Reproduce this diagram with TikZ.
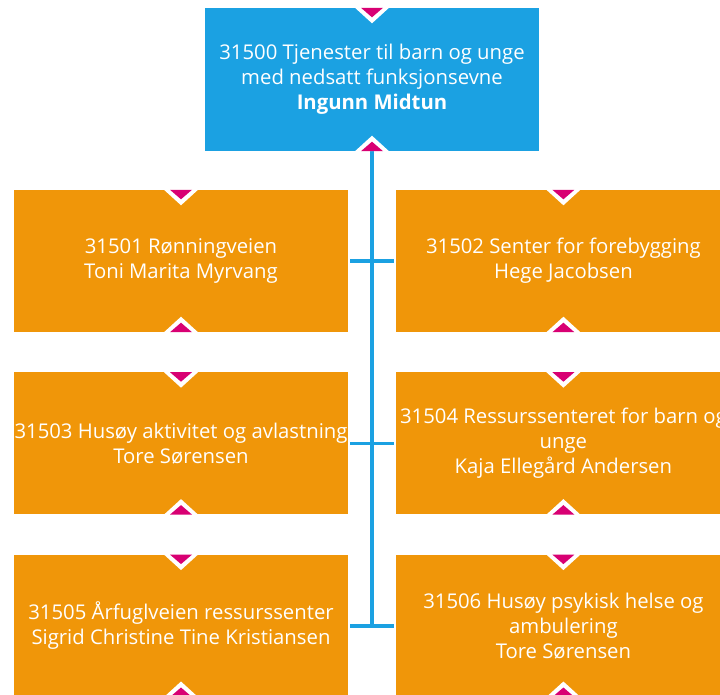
\documentclass[tikz,border=0pt]{standalone}
\usepackage{fontspec}
\setmainfont{Open Sans}
\usetikzlibrary{positioning}
\definecolor{unitblue}{HTML}{1BA1E2}
\definecolor{unitorange}{HTML}{F09609}
\definecolor{unitpink}{HTML}{D80073}

\begin{document}
\begin{tikzpicture}[x=1pt,y=-1pt,
  unit/.style={fill=unitorange, text=white, minimum width=334pt, minimum height=142pt,
    inner sep=0pt, align=center, font=\fontsize{20.3}{25}\selectfont},
  head/.style={unit, fill=unitblue, minimum height=143pt},
  link/.style={draw=unitblue, line width=3.5pt},
  node distance=40pt and 48pt]
\clip (0,0) rectangle (720,695);
%Knoten
\node (u31500) [head] at (372,79.5) {31500 Tjenester til barn og unge\\ med nedsatt funksjonsevne\\ \textbf{Ingunn Midtun}};
\node (u31501) [unit] at (181,261) {31501 Rønningveien\\ Toni Marita Myrvang};
\node (u31502) [unit, right=of u31501] {31502 Senter for forebygging\\ Hege Jacobsen};
\node (u31503) [unit, below=of u31501] {31503 Husøy aktivitet og avlastning\\ Tore Sørensen};
\node (u31504) [unit, right=of u31503] {31504 Ressurssenteret for barn og\\ unge\\ Kaja Ellegård Andersen};
\node (u31505) [unit, below=of u31503] {31505 Årfuglveien ressurssenter\\ Sigrid Christine Tine Kristiansen};
\node (u31506) [unit, right=of u31505] {31506 Husøy psykisk helse og\\ ambulering\\ Tore Sørensen};

%Verbindungen
\coordinate (trunk) at (u31500 |- u31505);
\draw[link] (u31500.south) -- (trunk);
\foreach \l/\r in {u31501/u31502, u31503/u31504, u31505/u31506}
  \draw[link, shorten <=2pt, shorten >=2pt] (\l.east) -- (\r.west);

%Markierungen
\foreach \n in {u31500, u31501, u31502, u31503, u31504, u31505, u31506}{
  \fill[white] (\n.north) +(-17,0) -- +(17,0) -- +(0,15.5) -- cycle;
  \fill[unitpink] (\n.north) +(-11,0) -- +(11,0) -- +(0,9.5) -- cycle;
  \fill[white] (\n.south) +(-17,0) -- +(17,0) -- +(0,-15.5) -- cycle;
  \fill[unitpink] (\n.south) +(-11,0) -- +(11,0) -- +(0,-9.5) -- cycle;
}
\end{tikzpicture}
\end{document}
